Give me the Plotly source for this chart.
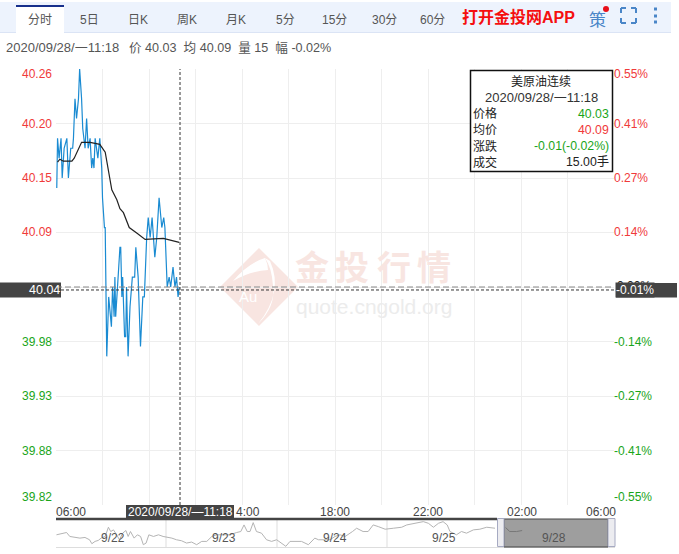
import plotly.graph_objects as go

# ---------- data ----------
minute_x = [2,4,8,13,16,21,28,32,38,43,45,49,53,58,61,66,69,75,79,83,88,92,95,98,101,108,113,118,120,125,127,131,136,143,146,150,152,154,165,167,170,172,177,180,182,186,191,197,203,206,212,218,224,228,234,238,243,248,255,260,266,273,278,281,287,292,296,302,307,311,315,318]
minute_price = [40.14,40.19,40.17,40.19,40.15,40.18,40.19,40.15,40.18,40.18,40.19,40.23,40.21,40.23,40.26,40.23,40.20,40.18,40.21,40.18,40.19,40.16,40.17,40.16,40.19,40.17,40.19,40.16,40.13,40.10,40.10,39.97,40.03,40.00,40.04,40.01,40.05,40.01,40.08,40.08,40.03,40.05,39.99,39.99,40.04,39.97,40.02,40.05,40.05,40.08,40.05,39.98,40.03,40.03,40.09,40.11,40.09,40.11,40.07,40.09,40.13,40.10,40.11,40.10,40.04,40.05,40.04,40.06,40.04,40.05,40.03,40.04]
avg_x = [4,10,19,41,47,66,88,113,127,133,138,144,157,165,174,189,210,230,277,318]
avg_price = [40.166,40.169,40.167,40.167,40.170,40.186,40.186,40.184,40.176,40.163,40.150,40.138,40.128,40.119,40.115,40.100,40.094,40.088,40.089,40.085]

nav_hours = [0.1,1.2,2.3,3,4.1,5.2,6.3,7.3,7.8,8.5,9.2,9.8,10.7,11.4,11.9,12.5,13.2,13.8,14.5,15.2,15.7,16.2,17,17.7,18.4,19,19.6,20.2,21.2,22.3,23.3,24.1,25.2,26.2,27.3,28.4,29.5,30.6,31.7,32.8,33.9,34.9,36.4,37.8,39.3,40.2,40.9,41.6,42.2,42.9,43.6,44.7,45.8,46.9,48,49.1,50,50.9,52,53.4,54.9,56.3,57.1,58.5,59.6,60.7,61.8,62.9,63.9,64.5,65.4,66.8,67.9,69,70.1,71.6,73.4,75.2,76.3,78.4,79.9,81,82.1,83.2,84.2,85.1,85.7,87.1,88.2,89.3,90.8,92.2,93.7,95.5]
nav_level = [37,40,44,32,30,27,29,22,10,17,20,27,32,60,47,52,37,22,42,50,32,47,27,37,32,7,12,37,32,37,32,30,27,22,19,12,15,7,17,17,32,37,37,37,44,47,67,47,47,74,47,42,22,17,22,12,2,17,17,17,7,27,22,22,22,32,37,32,40,47,57,47,47,67,62,54,57,60,67,72,77,72,60,72,77,67,47,37,47,42,52,54,60,57,47]
nav_last_hours = [97.8,98.7,100.2,101.4]
nav_last_level = [59,47,47,50]
nav_day_labels = ["9/22","9/23","9/24","9/25","9/28"]

y_left_labels = ["40.26","40.20","40.15","40.09","40.04","39.98","39.93","39.88","39.82"]
y_right_labels = ["0.55%","0.41%","0.27%","0.14%","0.00%","-0.14%","-0.27%","-0.41%","-0.55%"]
y_ticks = [40.26,40.205,40.15,40.095,40.04,39.985,39.93,39.875,39.82]
x_grid = [0,120,240,360,480,600,720,840,960,1080,1200,1320,1440]
x_time_labels = ["06:00","4:00","18:00","22:00","02:00","06:00"]
tabs = ["分时","5日","日K","周K","月K","5分","15分","30分","60分"]
info_rows = [("价格","40.03","#1aa51a"),("均价","40.09","#f03a3a"),("涨跌","-0.01(-0.02%)","#1aa51a"),("成交","15.00手","#222")]
watermark_chars = ["金","投","行","情"]

W, H = 679, 554
FONT = "Liberation Sans, Noto Sans CJK SC, sans-serif"
RED, GREEN = "#f03a3a", "#1aa51a"
px = lambda v: v / W
py = lambda v: 1 - v / H

fig = go.Figure()
fig.add_trace(go.Scatter(x=minute_x, y=minute_price, mode="lines", line=dict(color="#1a8bd2", width=1.2), xaxis="x", yaxis="y", hoverinfo="skip"))
fig.add_trace(go.Scatter(x=avg_x, y=avg_price, mode="lines", line=dict(color="#222", width=1.2), xaxis="x", yaxis="y", hoverinfo="skip"))
fig.add_trace(go.Scatter(x=nav_hours, y=nav_level, mode="lines", line=dict(color="#b4b4b4", width=1), xaxis="x2", yaxis="y2", hoverinfo="skip"))
fig.add_trace(go.Scatter(x=nav_last_hours, y=nav_last_level, mode="lines", line=dict(color="#777777", width=1), xaxis="x2", yaxis="y2", hoverinfo="skip"))

shapes, ann = [], []

def rect(x0, y0, x1, y1, fill=None, line=None, lw=0, layer="below"):
    shapes.append(dict(type="rect", xref="paper", yref="paper", x0=px(x0), x1=px(x1), y0=py(y0), y1=py(y1),
                       fillcolor=fill or "rgba(0,0,0,0)", line=dict(color=line or "rgba(0,0,0,0)", width=lw), layer=layer))

def pline(x0, y0, x1, y1, color, lw=1, dash="solid", layer="below"):
    shapes.append(dict(type="line", xref="paper", yref="paper", x0=px(x0), x1=px(x1), y0=py(y0), y1=py(y1),
                       line=dict(color=color, width=lw, dash=dash), layer=layer))

def text(x, y, s, color="#555", size=12, anchor="center", family=FONT, **kw):
    ann.append(dict(xref="paper", yref="paper", x=px(x), y=py(y), text=s, showarrow=False, xanchor=anchor, yanchor="middle",
                    borderpad=0, font=dict(family=family, size=size, color=color), **kw))

def qpath(fill, start, *segs):
    d = "M %f %f" % (px(start[0]), py(start[1]))
    for c, e in segs:
        d += " Q %f %f %f %f" % (px(c[0]), py(c[1]), px(e[0]), py(e[1]))
    shapes.append(dict(type="path", xref="paper", yref="paper", layer="below", line=dict(width=0), fillcolor=fill, path=d + " Z"))

# header
rect(0, 2, 671, 32, fill="#edf3fd")
pline(0, 32.5, 671, 32.5, "#dbe4f5")
rect(16, 5, 64, 33, fill="#ffffff")
pline(16, 6, 64, 6, "#17308c", lw=2)
for tab, cx in zip(tabs, [40, 89, 138, 187, 236, 285, 334, 384, 433]):
    text(cx, 19.5, tab, color="#555", size=12)
text(518, 17, "<b>打开金投网APP</b>", color="#f50f0f", size=16)
text(597, 18, "策", color="#4a86c8", size=17, family="Noto Sans CJK SC")
shapes.append(dict(type="circle", xref="paper", yref="paper", x0=px(603), x1=px(609), y0=py(12), y1=py(6), fillcolor="#e8101a", line=dict(width=0)))
ic = "#4a86c8"
for (a, b, c, d) in [(621,13,621,8),(621,8,626,8),(631,8,636,8),(636,8,636,13),(621,18,621,23),(621,23,626,23),(631,23,636,23),(636,18,636,23)]:
    pline(a, b, c, d, ic, lw=2)
for cy in [9, 16, 22]:
    rect(654, cy - 1.5, 657, cy + 1.5, fill=ic)
text(5, 47.5, "2020/09/28/一11:18", color="#555", size=13, anchor="left")
text(128, 47.5, "价 40.03  均 40.09  量 15  幅 -0.02%", color="#555", size=12.6, anchor="left")

# watermark
qpath("#f8e5e1", (259, 248), ((278, 267), (298, 287)), ((278, 307), (259, 326)), ((240, 307), (220, 287)), ((240, 267), (259, 248)))
qpath("#ffffff", (270, 261), ((284, 292), (258, 324)), ((276, 306), (273, 286)), ((272, 268), (265, 258)))
qpath("#ffffff", (265, 258), ((248, 263), (233, 281)), ((250, 271), (268, 270)), ((268, 264), (265, 258)))
for ch, cx in zip(watermark_chars, [312, 352, 394, 434]):
    text(cx, 265, "<b>%s</b>" % ch, color="#f8e5e1", size=34, family="Noto Sans CJK SC")
text(374, 306, "quote.cngold.org", color="#ececec", size=21)
text(248, 296, "Au", color="#ffffff", size=15)

# y labels
for i, (l, r, v) in enumerate(zip(y_left_labels, y_right_labels, y_ticks)):
    base = 69 + i * 54.5
    ly = base + (5 if i == 0 else -8 if i == 8 else 0)
    if i == 4:
        continue
    c = RED if i < 4 else GREEN
    text(53, ly, l, color=c, size=12, anchor="right")
    text(613, ly, r, color=c, size=12, anchor="left")
text(616, 286, y_right_labels[4], color="#222", size=12, anchor="left")

# price/percent boxes
rect(0, 282.5, 61, 297.5, fill="#444444", layer="above")
rect(616, 283, 677, 297.5, fill="#444444", layer="above")

# crosshair + previous close line (on the data axis)
shapes.append(dict(type="line", xref="x", yref="y", x0=0, x1=1440, y0=40.04, y1=40.04, line=dict(color="#888", width=1, dash="6px,3px"), layer="above"))
shapes.append(dict(type="line", xref="x", yref="y", x0=0, x1=1440, y0=40.037, y1=40.037, line=dict(color="#333", width=1, dash="3px,2px"), layer="above"))
shapes.append(dict(type="line", xref="x", yref="y", x0=320, x1=320, y0=39.82, y1=40.26, line=dict(color="#333", width=1, dash="3px,2px"), layer="above"))

# tooltip
rect(470.5, 70.5, 612.5, 171.5, fill="#ffffff", line="#111", lw=1.5, layer="above")
text(541, 81.5, "美原油连续", color="#222", size=12)
text(541, 97.5, "2020/09/28/一11:18", color="#333", size=13)
for i, (k, v, c) in enumerate(info_rows):
    yy = 113.5 + i * 16.3
    text(471.5, yy, k, color="#222", size=12, anchor="left")
    text(609.5, yy, v, color=c, size=12.3, anchor="right")

# time labels
for lab, cx, anc in zip(x_time_labels, [55, 235, 335, 428, 522, 617], ["left","left","center","center","center","right"]):
    text(cx, 511.5, lab, color="#444", size=12, anchor=anc)
rect(126, 505, 234, 518.5, fill="#444444", layer="above")

# navigator
pline(56, 547.5, 615, 547.5, "#dddddd")
for v in [166, 277, 387]:
    pline(v, 519, v, 547, "#dddddd")
pline(56, 519, 497, 519, "#444444", lw=2.5)
rect(504, 519, 608, 547, fill="#9e9e9e", line="#444444", lw=1)
rect(497.5, 518.5, 504, 546.5, fill="#ececf0", line="#a6aac2", lw=1, layer="above")
rect(608, 518.5, 615, 546.5, fill="#ececf0", line="#a6aac2", lw=1, layer="above")
for lab, cx in zip(nav_day_labels, [113, 224, 335, 444, 554]):
    text(cx, 537.5, lab, color="#555", size=12)

# white labels on the dark boxes
text(61, 290, y_left_labels[4], color="#ffffff", size=12.5, anchor="right")
text(635, 290, "-0.01%", color="#ffffff", size=12, bgcolor="#444444")
text(180, 511.5, "2020/09/28/—11:18", color="#ffffff", size=12)

fig.update_layout(
    width=W, height=H, autosize=False, margin=dict(l=0, r=0, t=0, b=0), showlegend=False,
    paper_bgcolor="#ffffff", plot_bgcolor="#ffffff", shapes=shapes, annotations=ann,
    xaxis=dict(domain=[px(56), px(614)], range=[0, 1440], tickvals=x_grid, showticklabels=False, showgrid=True,
               gridcolor="#eeeeee", gridwidth=1, zeroline=False, ticks="", anchor="y", fixedrange=True),
    yaxis=dict(domain=[py(505), py(69)], range=[39.82, 40.26], tickvals=y_ticks, showticklabels=False, showgrid=True,
               gridcolor="#eeeeee", gridwidth=1, zeroline=False, ticks="", anchor="x", fixedrange=True),
    xaxis2=dict(domain=[px(56), px(615)], range=[0, 121.6], visible=False, anchor="y2", fixedrange=True),
    yaxis2=dict(domain=[py(547), py(519)], range=[0, 85], visible=False, anchor="x2", fixedrange=True),
)

fig.write_html("out.html", config=dict(displayModeBar=False), post_script="document.body.style.margin='0';")
